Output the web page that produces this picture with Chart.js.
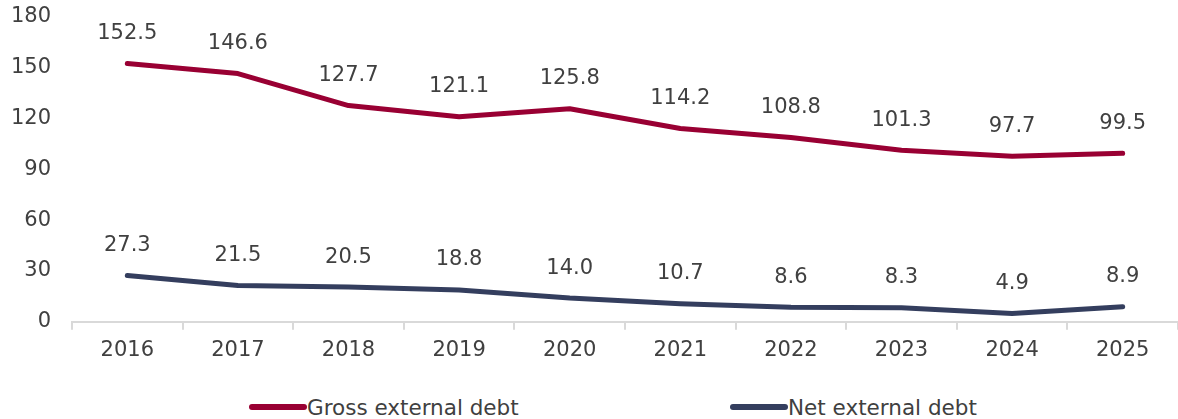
<!DOCTYPE html>
<html>
<head>
<meta charset="utf-8">
<script src="https://cdn.jsdelivr.net/npm/chart.js@4"></script>
<style>
  html, body { margin: 0; padding: 0; background: #fff; }
  .wrap { position: relative; width: 1178px; height: 385px; }
  .legend { position: relative; height: 44px; font-family: "DejaVu Sans", Verdana, sans-serif; font-size: 21.5px; color: #404040; }
  .legend .item { display: flex; align-items: center; position: absolute; top: 10px; height: 24px; }
  .legend .swatch { width: 58px; height: 6px; border-radius: 3px; }
</style>
</head>
<body>
<div class="wrap"><canvas id="debt"></canvas></div>
<div class="legend" id="legend"></div>
<script>
var years = ["2016", "2017", "2018", "2019", "2020", "2021", "2022", "2023", "2024", "2025"];
var grossDebt = [152.5, 146.6, 127.7, 121.1, 125.8, 114.2, 108.8, 101.3, 97.7, 99.5];
var netDebt = [27.3, 21.5, 20.5, 18.8, 14.0, 10.7, 8.6, 8.3, 4.9, 8.9];
var yTicks = [0, 30, 60, 90, 120, 150, 180];

var seriesNames = ["Gross external debt", "Net external debt"];
var seriesColors = ["#990033", "#343e5e"];
var legendLeft = [249, 730];

var textColor = "#404040";
var fontFamily = "'DejaVu Sans', Verdana, sans-serif";
var fontSize = 21;

// value labels above each point
var pointLabels = {
    id: "pointLabels",
    afterDatasetsDraw: function (chart) {
        var ctx = chart.ctx;
        ctx.save();
        ctx.font = fontSize + "px " + fontFamily;
        ctx.fillStyle = textColor;
        ctx.textAlign = "center";
        ctx.textBaseline = "middle";
        chart.data.datasets.forEach(function (ds, i) {
            chart.getDatasetMeta(i).data.forEach(function (pt, j) {
                ctx.fillText(ds.data[j].toFixed(1), pt.x, pt.y - 30);
            });
        });
        ctx.restore();
    }
};

var ctx = document.getElementById("debt").getContext("2d");

new Chart(ctx, {
    type: "line",
    plugins: [pointLabels],
    data: {
        labels: years,
        datasets: [
            {
                label: seriesNames[0],
                data: grossDebt,
                borderColor: seriesColors[0],
                backgroundColor: seriesColors[0],
                borderWidth: 5,
                borderCapStyle: "round",
                borderJoinStyle: "round",
                pointRadius: 0,
                tension: 0
            },
            {
                label: seriesNames[1],
                data: netDebt,
                borderColor: seriesColors[1],
                backgroundColor: seriesColors[1],
                borderWidth: 5,
                borderCapStyle: "round",
                borderJoinStyle: "round",
                pointRadius: 0,
                tension: 0
            }
        ]
    },
    options: {
        responsive: true,
        maintainAspectRatio: false,
        animation: false,
        layout: {
            padding: { top: 17, right: 0, bottom: 14, left: 0 }
        },
        scales: {
            x: {
                offset: true,
                grid: {
                    offset: true,
                    drawOnChartArea: false,
                    drawTicks: true,
                    tickLength: 8,
                    color: "#d9d9d9",
                    lineWidth: 2
                },
                border: { color: "#d9d9d9", width: 2 },
                ticks: {
                    color: textColor,
                    padding: 8,
                    maxRotation: 0,
                    font: { family: fontFamily, size: fontSize }
                }
            },
            y: {
                min: 0,
                max: 180,
                afterBuildTicks: function (axis) {
                    axis.ticks = yTicks.map(function (v) { return { value: v }; });
                },
                afterFit: function (axis) {
                    axis.width = 72;
                    axis.paddingTop = 0;
                    axis.paddingBottom = 0;
                },
                grid: { display: false, drawTicks: false },
                border: { display: false },
                ticks: {
                    color: textColor,
                    padding: 21,
                    font: { family: fontFamily, size: fontSize }
                }
            }
        },
        plugins: {
            legend: { display: false },
            tooltip: { enabled: false }
        }
    }
});

// legend row under the chart
var legend = document.getElementById("legend");
seriesNames.forEach(function (name, i) {
    var item = document.createElement("div");
    item.className = "item";
    item.style.left = legendLeft[i] + "px";
    var sw = document.createElement("span");
    sw.className = "swatch";
    sw.style.background = seriesColors[i];
    var txt = document.createElement("span");
    txt.textContent = name;
    item.appendChild(sw);
    item.appendChild(txt);
    legend.appendChild(item);
});
</script>
</body>
</html>
